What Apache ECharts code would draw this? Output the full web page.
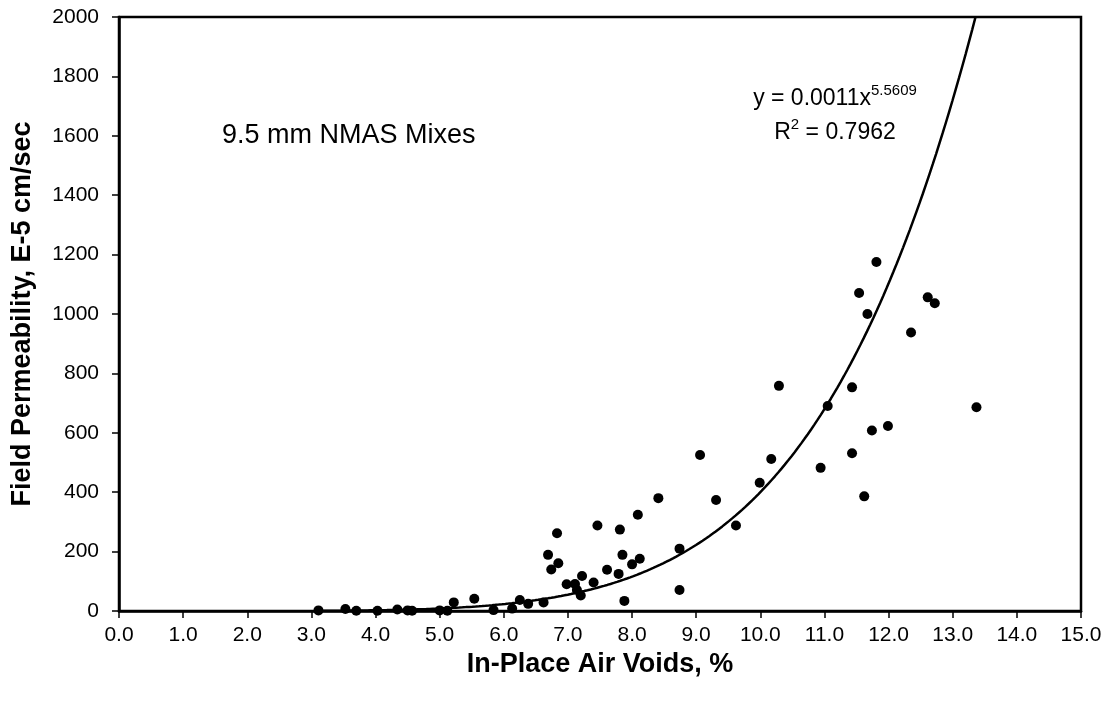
<!DOCTYPE html>
<html>
<head>
<meta charset="utf-8">
<script src="https://cdn.jsdelivr.net/npm/echarts@6/dist/echarts.min.js"></script>
<style>
html,body{margin:0;padding:0;background:#fff;}
#chart{width:1107px;height:702px;}
</style>
</head>
<body>
<div id="chart"></div>
<script>
// Measured data (in-place air voids %, field permeability E-5 cm/sec)
const airVoids = [3.11,3.53,3.70,4.03,4.34,4.50,4.57,5.00,5.12,5.22,5.54,5.84,6.13,6.25,6.38,6.62,6.69,6.74,6.83,6.85,6.98,7.11,7.14,7.20,7.22,7.40,7.46,7.61,7.79,7.81,7.85,7.88,8.00,8.09,8.12,8.41,8.74,8.74,9.06,9.31,9.62,9.99,10.17,10.29,10.94,11.05,11.43,11.43,11.54,11.62,11.67,11.74,11.81,11.99,12.35,12.61,12.72,13.37];
const permeability = [2,7,1,1,5,2,1,2,1,29,41,3,8,37,24,29,189,140,262,161,90,91,71,52,118,96,288,139,125,274,189,34,157,324,176,380,210,71,525,374,288,432,512,758,482,690,753,531,1071,386,1000,608,1175,623,938,1056,1036,686];
// Trendline coefficients as printed on the chart: y = a * x^b
const trendA = 0.0011;
const trendB = 5.5609;
const trendXStart = 3.1;
const xTicks = [0,15,1];
const yTicks = [0,2000,200];

const scatterData = airVoids.map((x,i)=>[x, permeability[i]]);
const trendData = [];
const yMax = yTicks[1];
const xEnd = Math.pow(yMax / trendA, 1 / trendB);
const steps = 200;
for (let i = 0; i <= steps; i++) {
  const x = trendXStart + (xEnd - trendXStart) * i / steps;
  trendData.push([x, trendA * Math.pow(x, trendB)]);
}

const chart = echarts.init(document.getElementById('chart'), null, {renderer:'canvas'});
const font = 'Arial, "Liberation Sans", sans-serif';
chart.setOption({
  animation:false,
  backgroundColor:'#fff',
  grid:{left:119,right:26,top:17,bottom:91,show:true,borderColor:'#000',borderWidth:2.5,backgroundColor:'transparent'},
  xAxis:{
    type:'value', min:xTicks[0], max:xTicks[1], interval:xTicks[2],
    name:'In-Place Air Voids, %', nameLocation:'middle', nameGap:38,
    nameTextStyle:{fontFamily:font,fontWeight:'bold',fontSize:27,color:'#000'},
    axisLine:{show:true,onZero:false,lineStyle:{color:'#000',width:2.5}},
    axisTick:{show:true,inside:false,length:7,lineStyle:{color:'#000',width:1.5}},
    axisLabel:{fontFamily:font,fontSize:21,color:'#000',margin:14,formatter:v=>v.toFixed(1)},
    splitLine:{show:false}
  },
  yAxis:{
    type:'value', min:yTicks[0], max:yTicks[1], interval:yTicks[2],
    name:'Field Permeability, E-5 cm/sec', nameLocation:'middle', nameGap:83, nameRotate:90,
    nameTextStyle:{fontFamily:font,fontWeight:'bold',fontSize:27,color:'#000'},
    axisLine:{show:true,onZero:false,lineStyle:{color:'#000',width:2.5}},
    axisTick:{show:true,inside:false,length:7,lineStyle:{color:'#000',width:1.5}},
    axisLabel:{fontFamily:font,fontSize:21,color:'#000',margin:20,formatter:v=>String(v)},
    splitLine:{show:false}
  },
  series:[
    {type:'scatter',data:scatterData,symbol:'circle',symbolSize:10,itemStyle:{color:'#000',opacity:1},z:3},
    {type:'line',data:trendData,showSymbol:false,smooth:false,lineStyle:{color:'#000',width:2.5},clip:true,z:2}
  ],
  graphic:[
    {type:'text',left:222,top:122,style:{text:'9.5 mm NMAS Mixes',fontFamily:font,fontSize:27,fill:'#000'}},
    {type:'text',x:835,y:83,style:{
      text:'{b|y = 0.0011x}{s|5.5609}',align:'center',fontFamily:font,fill:'#000',
      rich:{b:{fontFamily:font,fontSize:23,color:'#000',verticalAlign:'bottom'},s:{fontFamily:font,fontSize:15,color:'#000',verticalAlign:'top',padding:[0,0,12,0]}}
    }},
    {type:'text',x:835,y:117,style:{
      text:'{b|R}{s|2}{b| = 0.7962}',align:'center',fontFamily:font,fill:'#000',
      rich:{b:{fontFamily:font,fontSize:23,color:'#000',verticalAlign:'bottom'},s:{fontFamily:font,fontSize:15,color:'#000',verticalAlign:'top',padding:[0,0,12,0]}}
    }}
  ]
});
</script>
</body>
</html>
